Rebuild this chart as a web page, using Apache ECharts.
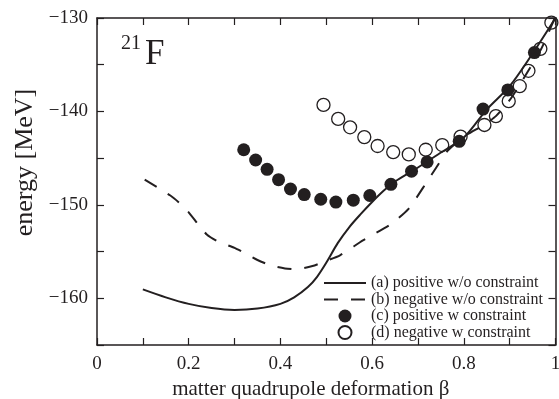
<!DOCTYPE html>
<html>
<head>
<meta charset="utf-8">
<script src="https://cdn.jsdelivr.net/npm/echarts@6/dist/echarts.min.js"></script>
<style>
html,body{margin:0;padding:0;background:#fff;}
#chart{width:559px;height:399px;}
</style>
</head>
<body>
<div id="chart"></div>
<script>
// (a) positive w/o constraint
const betaA = [0.10,0.15,0.20,0.25,0.30,0.35,0.40,0.43,0.46,0.48,0.50,0.525,0.55,0.575,0.60,0.625,0.65,0.70,0.75,0.80,0.85,0.90,0.95,1.00];
const energyA = [-159.05,-159.9,-160.6,-161.05,-161.25,-161.1,-160.6,-159.9,-158.8,-157.7,-156.2,-154.1,-152.4,-151.0,-149.7,-148.5,-147.5,-146.0,-144.4,-142.8,-139.8,-137.3,-133.8,-130.0];
// (b) negative w/o constraint
const betaB = [0.104,0.16,0.18,0.20,0.22,0.24,0.265,0.30,0.32,0.35,0.38,0.41,0.435,0.47,0.50,0.53,0.58,0.64,0.68,0.72,0.74,0.765,0.80,0.845,0.87,0.90,0.92,0.94,0.97,1.00];
const energyB = [-147.3,-149.0,-149.8,-150.8,-152.05,-153.2,-153.95,-154.6,-155.1,-155.9,-156.5,-156.8,-156.9,-156.55,-156.0,-155.4,-153.8,-152.1,-150.4,-147.5,-146.0,-144.2,-142.7,-141.4,-140.5,-138.8,-137.3,-135.7,-133.2,-129.8];
// (c) positive w constraint
const betaC = [0.320,0.346,0.371,0.396,0.422,0.452,0.488,0.521,0.559,0.595,0.641,0.686,0.720,0.790,0.842,0.896,0.954];
const energyC = [-144.1,-145.2,-146.2,-147.3,-148.3,-148.9,-149.4,-149.7,-149.5,-149.0,-147.8,-146.4,-145.4,-143.2,-139.75,-137.7,-133.7];
// (d) negative w constraint
const betaD = [0.494,0.526,0.552,0.583,0.612,0.646,0.680,0.717,0.753,0.793,0.845,0.870,0.898,0.922,0.941,0.967,0.991];
const energyD = [-139.3,-140.8,-141.7,-142.75,-143.7,-144.35,-144.6,-144.1,-143.6,-142.7,-141.45,-140.5,-138.9,-137.3,-135.65,-133.3,-130.5];

const seriesNames = ['(a) positive w/o constraint','(b) negative w/o constraint','(c) positive w constraint','(d) negative w constraint'];
const xTickLabels = ['0','0.2','0.4','0.6','0.8','1'];
const yTickValues = [-160,-150,-140,-130];
const yTickLabels = ['\u2212160','\u2212150','\u2212140','\u2212130'];

const zip = (xs, ys) => xs.map((x, i) => [x, ys[i]]);
const ink = '#231f20';
const serif = "'Liberation Serif','Times New Roman',serif";

const xLabelFmt = v => {
  const k = Math.round(v * 10);
  return k % 2 === 0 ? xTickLabels[k / 2] : '';
};
const yLabelFmt = v => {
  const idx = yTickValues.indexOf(Math.round(v));
  return idx >= 0 ? yTickLabels[idx] : '';
};

const axisLine = () => ({ show: true, onZero: false, lineStyle: { color: ink, width: 1.5 } });
const axisTick = () => ({ show: true, inside: true, length: 7, lineStyle: { color: ink, width: 1.2 } });
const hidden = { color: 'rgba(0,0,0,0)', borderColor: 'rgba(0,0,0,0)', borderWidth: 0 };

const chart = echarts.init(document.getElementById('chart'), null, { renderer: 'canvas' });
chart.setOption({
  animation: false,
  backgroundColor: '#fff',
  title: [
    { text: '21', left: 121, top: 34, padding: 0, textStyle: { fontFamily: serif, fontSize: 20, fontWeight: 'normal', color: ink } },
    { text: 'F', left: 145, top: 37, padding: 0, textStyle: { fontFamily: serif, fontSize: 35, fontWeight: 'normal', color: ink } }
  ],
  grid: { left: 97, right: 3.5, top: 18, bottom: 54, containLabel: false, outerBoundsMode: 'none' },
  legend: {
    orient: 'vertical',
    left: 323, top: 275,
    padding: 0,
    itemWidth: 42, itemHeight: 13, itemGap: 0.5,
    data: [
      { name: seriesNames[0], itemStyle: hidden },
      { name: seriesNames[1], itemStyle: hidden },
      { name: seriesNames[2] },
      { name: seriesNames[3] }
    ],
    textStyle: { fontFamily: serif, fontSize: 16, color: ink, lineHeight: 16 }
  },
  xAxis: [
    {
      type: 'value', min: 0, max: 1, interval: 0.1, position: 'bottom',
      axisLine: axisLine(), axisTick: axisTick(), splitLine: { show: false },
      axisLabel: { formatter: xLabelFmt, fontFamily: serif, fontSize: 19, color: ink, margin: 10, showMaxLabel: true, showMinLabel: true },
      name: 'matter quadrupole deformation \u03b2', nameLocation: 'middle', nameGap: 29,
      nameTextStyle: { fontFamily: serif, fontSize: 21, color: ink, padding: [0, 31, 0, 0] }
    },
    {
      type: 'value', min: 0, max: 1, interval: 0.1, position: 'top',
      axisLine: axisLine(), axisTick: axisTick(), splitLine: { show: false },
      axisLabel: { show: false }
    }
  ],
  yAxis: [
    {
      type: 'value', min: -165, max: -130, interval: 5, position: 'left',
      axisLine: axisLine(), axisTick: axisTick(), splitLine: { show: false },
      axisLabel: { formatter: yLabelFmt, fontFamily: serif, fontSize: 19, color: ink, margin: 9 },
      name: 'energy [MeV]', nameLocation: 'middle', nameGap: 56,
      nameTextStyle: { fontFamily: serif, fontSize: 26, color: ink, padding: [0, 0, 0, 38] }
    },
    {
      type: 'value', min: -165, max: -130, interval: 5, position: 'right',
      axisLine: axisLine(), axisTick: axisTick(), splitLine: { show: false },
      axisLabel: { show: false }
    }
  ],
  series: [
    {
      name: seriesNames[0], type: 'line', data: zip(betaA, energyA), symbol: 'none', smooth: 0.3,
      lineStyle: { color: ink, width: 2 }, itemStyle: { color: ink }, z: 3
    },
    {
      name: seriesNames[1], type: 'line', data: zip(betaB, energyB), symbol: 'none', smooth: 0.2,
      lineStyle: { color: ink, width: 2, type: [14, 13] }, itemStyle: { color: ink }, z: 3
    },
    {
      name: seriesNames[2], type: 'scatter', data: zip(betaC, energyC), symbol: 'circle', symbolSize: 13,
      itemStyle: { color: ink, opacity: 1 }, clip: false, z: 2
    },
    {
      name: seriesNames[3], type: 'scatter', data: zip(betaD, energyD), symbol: 'circle', symbolSize: 13,
      itemStyle: { color: 'rgba(255,255,255,0)', borderColor: ink, borderWidth: 1.3, opacity: 1 }, clip: false, z: 2
    }
  ]
});
</script>
</body>
</html>
